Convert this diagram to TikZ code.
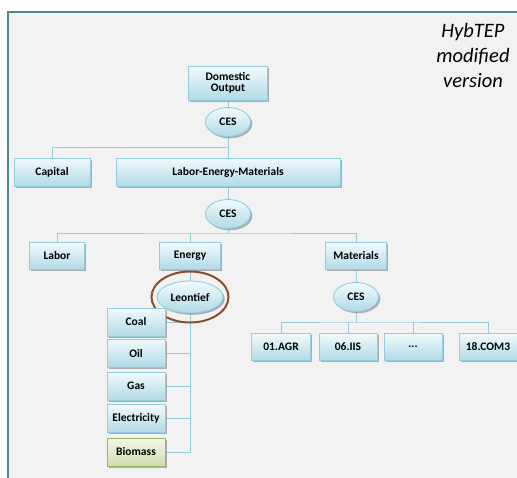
\documentclass[tikz,border=0pt]{standalone}
\usepackage{fontspec}
\setmainfont{Carlito}
\usetikzlibrary{shapes.geometric,shadows,backgrounds}
\definecolor{frameline}{RGB}{79,138,139}
\definecolor{framebg}{RGB}{242,242,242}
\definecolor{boxtop}{RGB}{242,250,252}
\definecolor{boxbot}{RGB}{176,218,230}
\definecolor{boxline}{RGB}{147,205,221}
\definecolor{greentop}{RGB}{245,248,236}
\definecolor{greenbot}{RGB}{205,221,172}
\definecolor{greenline}{RGB}{155,180,100}
\definecolor{linkcol}{RGB}{147,205,221}
\definecolor{ringcol}{RGB}{140,75,45}
\tikzset{
  base/.style={draw=boxline, line width=0.9pt, top color=boxtop, bottom color=boxbot,
    font=\bfseries\fontsize{11.5}{12.5}\selectfont, inner sep=0pt, align=center,
    drop shadow={shadow xshift=1.8pt, shadow yshift=-1.8pt, fill=black!50, opacity=0.6}},
  box/.style={base, rectangle, minimum height=#1},
  box/.default=27pt,
  oval/.style={base, ellipse, minimum width=45pt, minimum height=29pt},
  greenbox/.style={box=28pt, draw=greenline, top color=greentop, bottom color=greenbot},
  link/.style={draw=linkcol, line width=0.9pt},
}
\begin{document}
\begin{tikzpicture}[x=1pt,y=-1pt]
\useasboundingbox (0,0) rectangle (517,477);
% nodes
\node[box=34pt, minimum width=79pt] (dom) at (228,83) {Domestic\\[-1pt]Output};
\node[oval] (ces1) at (228,122) {CES};
\node[box=28pt, minimum width=76pt] (cap) at (52,172) {Capital};
\node[box=28pt, minimum width=224pt] (lem) at (228,172) {Labor-Energy-Materials};
\node[oval] (ces2) at (228,214) {CES};
\node[box, minimum width=55pt] (labor) at (57,256) {Labor};
\node[box, minimum width=61pt] (energy) at (190,256) {Energy};
\node[box, minimum width=61pt] (mat) at (356,256) {Materials};
\node[oval, minimum width=66pt, minimum height=32pt] (leon) at (190,297) {Leontief};
\node[oval] (ces3) at (356,297) {CES};
\node[box, minimum width=59pt] (agr) at (281,347) {01.AGR};
\node[box, minimum width=58pt] (iis) at (348,347) {06.IIS};
\node[box, minimum width=58pt] (dots) at (413,347) {...};
\node[box, minimum width=58pt] (com) at (488,347) {18.COM3};
\node[draw=ringcol, line width=2pt, ellipse, minimum width=77pt, minimum height=51pt] (ring) at (190,297) {};
\node[box=28pt, minimum width=58pt] (coal) at (136,322) {Coal};
\node[box=28pt, minimum width=58pt] (oil) at (136,353) {Oil};
\node[box=28pt, minimum width=58pt] (gas) at (136,386) {Gas};
\node[box=28pt, minimum width=58pt] (elec) at (136,418) {Electricity};
\node[greenbox, minimum width=58pt] (bio) at (136,452) {Biomass};
\node[font=\itshape\fontsize{20.5}{25}\selectfont, align=center, inner sep=0pt] (title) at (473,55) {HybTEP\\modified\\version};
\coordinate (bus1) at (228,147);
\coordinate (bus2) at (228,233);
\coordinate (bus3) at (356,322);
\begin{scope}[on background layer]
  \fill[framebg] (8,12) rectangle (530,490);
  \draw[frameline, line width=2pt] (8,490) -- (8,12) -- (530,12);
  \draw[link] (dom.south) -- (ces1.north);
  \draw[link] (ces1.south) -- (lem.north);
  \draw[link] (cap.north) |- (bus1);
  \draw[link] (lem.south) -- (ces2.north);
  \draw[link] (ces2.south) -- (bus2);
  \draw[link] (labor.north) |- (bus2) -| (mat.north);
  \draw[link] (energy.north) -- (energy.north |- bus2);
  \draw[link] (energy.south) -- (leon.north);
  \draw[link] (mat.south) -- (ces3.north);
  \draw[link] (ces3.south) -- (bus3);
  \draw[link] (agr.north) |- (bus3) -| (com.north);
  \draw[link] (iis.north) -- (iis.north |- bus3);
  \draw[link] (dots.north) -- (dots.north |- bus3);
  \draw[link] (leon.south) -- (leon.south |- bio.east) -- (bio.east);
  \draw[link] (coal.east) -- (coal.east -| leon.south);
  \draw[link] (oil.east) -- (oil.east -| leon.south);
  \draw[link] (gas.east) -- (gas.east -| leon.south);
  \draw[link] (elec.east) -- (elec.east -| leon.south);
\end{scope}
\end{tikzpicture}
\end{document}
